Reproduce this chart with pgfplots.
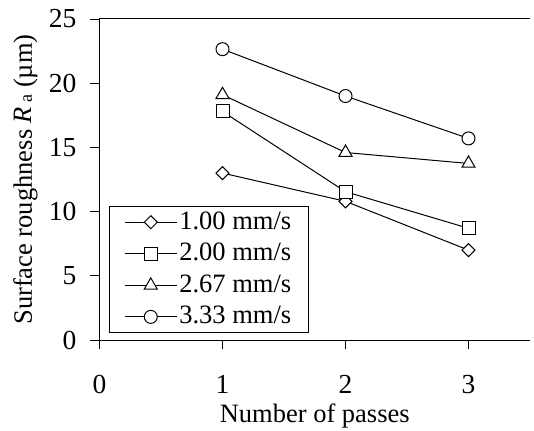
\documentclass[border=0pt]{standalone}
\usepackage{pgfplots}
\pgfplotsset{compat=1.18}
\usepackage{fontspec}
\setmainfont{Liberation Serif}
\begin{document}
\fontsize{26.5}{30}\selectfont
\begin{tikzpicture}
\path[use as bounding box] (-99.5pt,-90pt) rectangle (434.5pt,340pt);
\begin{axis}[
  at={(0pt,0pt)}, anchor=south west,
  scale only axis, width=430.5pt, height=321pt,
  xmin=0, xmax=3.5, ymin=0, ymax=25,
  xtick={0,1,2,3}, ytick={0,5,10,15,20,25},
  axis x line*=box, axis y line*=left,
  axis line style={-, line width=1pt},
  xtick pos=lower, ytick pos=left,
  tick align=outside, major tick length=9pt,
  tick style={line width=0.8pt, black},
  /pgf/number format/assume math mode=true,
  ticklabel style={font=\fontsize{27.5}{32}\selectfont},
  xticklabel style={anchor=base, yshift=-44pt},
  yticklabel style={xshift=-5pt},
  xlabel={Number of passes},
  ylabel={Surface roughness \textit{R}\,{\fontsize{18}{20}\selectfont a} (µm)},
  label style={font=\fontsize{26.5}{30}\selectfont},
  xlabel style={at={(axis description cs:0.5,-0.2555)}, anchor=base},
  ylabel style={at={(axis description cs:-0.1568,0.5)}, anchor=base, rotate=0},
  legend style={at={(0.022,0.022)}, anchor=south west, draw=black, line width=0.6pt,
    font=\fontsize{26.5}{29}\selectfont, inner xsep=15pt, inner ysep=3pt,
    row sep=6pt, cells={anchor=west}},
  legend image code/.code={\draw[mark repeat=2,mark phase=2,line width=1pt] plot coordinates {(0pt,0pt) (26pt,0pt) (52pt,0pt)};},
  every axis plot/.append style={black, line width=1pt, mark options={fill=white, line width=1pt, solid}},
]
\addplot[mark=square*, mark size=4.6pt, mark options={rotate=45, fill=white}] coordinates {(1,13.0) (2,10.8) (3,7.0)};
\addlegendentry{1.00 mm/s}
\addplot[mark=square*, mark size=6.5pt] coordinates {(1,17.8) (2,11.55) (3,8.7)};
\addlegendentry{2.00 mm/s}
\addplot[mark=triangle*, mark size=7.5pt] coordinates {(1,19.1) (2,14.6) (3,13.75)};
\addlegendentry{2.67 mm/s}
\addplot[mark=*, mark size=6.5pt] coordinates {(1,22.65) (2,19.0) (3,15.7)};
\addlegendentry{3.33 mm/s}
\end{axis}
\end{tikzpicture}
\end{document}
